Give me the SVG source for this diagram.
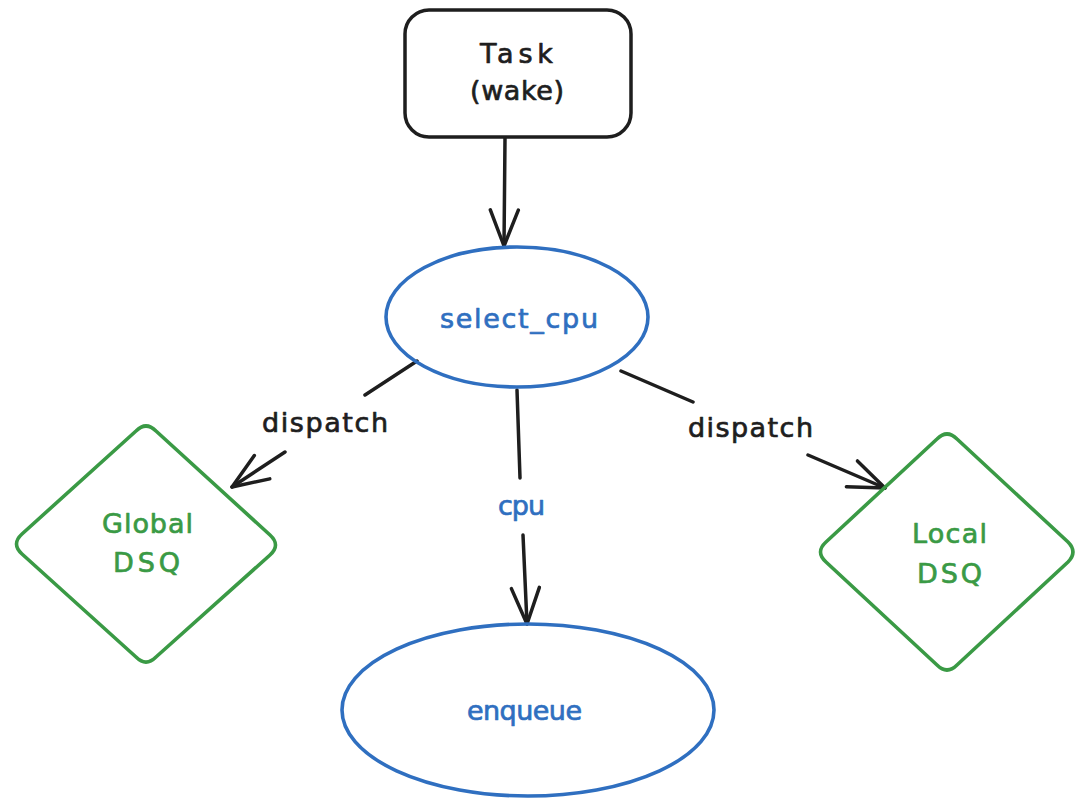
<svg xmlns="http://www.w3.org/2000/svg" width="1078" height="800" viewBox="0 0 1078 800">
  <style>
    .ink { fill: none; stroke: #1e1e1e; stroke-width: 3.5; stroke-linecap: round; stroke-linejoin: round; }
    .blue { fill: none; stroke: #2f6fc0; stroke-width: 3.6; }
    .green { fill: none; stroke: #3a9a45; stroke-width: 3.6; stroke-linejoin: round; }
    text { font-family: "DejaVu Sans", "Liberation Sans", sans-serif; font-size: 27px; text-anchor: middle; stroke-width: 0.7; stroke-linejoin: round; }
    .t-black { fill: #1e1e1e; stroke: #1e1e1e; }
    .t-blue { fill: #2f6fc0; stroke: #2f6fc0; }
    .t-green { fill: #3a9a45; stroke: #3a9a45; }
  </style>
  <defs>
    <marker id="head" markerUnits="userSpaceOnUse" markerWidth="60" markerHeight="60" refX="0" refY="0" orient="auto" viewBox="-50 -30 60 60" overflow="visible">
      <path d="M -36,-14 L 0,0 L -36,14" fill="none" stroke="#1e1e1e" stroke-width="3.5" stroke-linecap="round" stroke-linejoin="round"/>
    </marker>
  </defs>

  <rect width="1078" height="800" fill="#ffffff"/>

  <!-- connectors -->
  <g id="connectors">
    <path class="ink" d="M 505,138 L 504,246" marker-end="url(#head)"/>
    <path class="ink" d="M 417,361 L 365,395 M 285,452 L 232,487" marker-end="url(#head)"/>
    <path class="ink" d="M 517,390 L 520,478 M 523,535 L 527,624" marker-end="url(#head)"/>
    <path class="ink" d="M 621,371 L 693,402 M 808,455 L 885,488" marker-end="url(#head)"/>
    <text class="t-black" x="325" y="432" textLength="126" lengthAdjust="spacing">dispatch</text>
    <text class="t-blue" x="521.5" y="515" textLength="47" lengthAdjust="spacing">cpu</text>
    <text class="t-black" x="750.5" y="437" textLength="125" lengthAdjust="spacing">dispatch</text>
  </g>

  <!-- task box -->
  <g id="task">
    <rect class="ink" x="405" y="10" width="226" height="127" rx="24" ry="24"/>
    <text class="t-black" x="516.5" y="63" textLength="73" lengthAdjust="spacing">Task</text>
    <text class="t-black" x="517" y="100" textLength="94" lengthAdjust="spacing">(wake)</text>
  </g>

  <!-- select_cpu -->
  <g id="select_cpu">
    <ellipse class="blue" cx="517" cy="317" rx="131" ry="70"/>
    <text class="t-blue" x="519" y="328" textLength="158" lengthAdjust="spacing">select_cpu</text>
  </g>

  <!-- global dispatch queue -->
  <g id="global_dsq">
    <path class="green" d="M 156,431 L 270,535 Q 281,545 270,555 L 156,657 Q 146,667 136,657 L 22,554 Q 11,544 22,534 L 136,431 Q 146,421 156,431 Z"/>
    <text class="t-green" x="147.5" y="533" textLength="91" lengthAdjust="spacing">Global</text>
    <text class="t-green" x="146.5" y="572" textLength="67" lengthAdjust="spacing">DSQ</text>
  </g>

  <!-- local dispatch queue -->
  <g id="local_dsq">
    <path class="green" d="M 957,439 L 1068,542 Q 1078,552 1068,562 L 957,665 Q 947,675 937,665 L 826,562 Q 815,552 826,542 L 937,439 Q 947,429 957,439 Z"/>
    <text class="t-green" x="949.5" y="543" textLength="75" lengthAdjust="spacing">Local</text>
    <text class="t-green" x="949.5" y="583" textLength="65" lengthAdjust="spacing">DSQ</text>
  </g>

  <!-- enqueue -->
  <g id="enqueue">
    <ellipse class="blue" cx="528" cy="710" rx="186" ry="86"/>
    <text class="t-blue" x="524.5" y="720" textLength="115" lengthAdjust="spacing">enqueue</text>
  </g>
</svg>
